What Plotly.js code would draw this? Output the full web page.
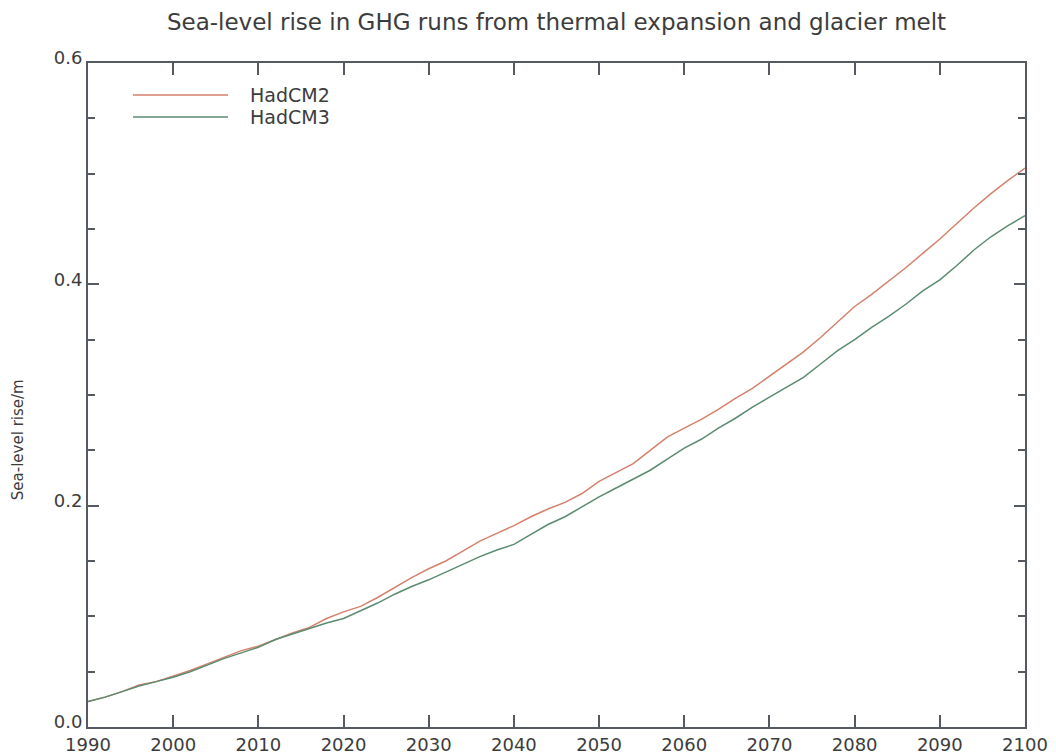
<!DOCTYPE html>
<html>
<head>
<meta charset="utf-8">
<script src="https://cdn.plot.ly/plotly-3.0.1.min.js"></script>
<style>html,body{margin:0;padding:0;background:#fff;}#chart{width:1056px;height:755px;}</style>
</head>
<body>
<div id="chart"></div>
<script>
const years = [1990,1992,1994,1996,1998,2000,2002,2004,2006,2008,2010,2012,2014,2016,2018,2020,2022,2024,2026,2028,2030,2032,2034,2036,2038,2040,2042,2044,2046,2048,2050,2052,2054,2056,2058,2060,2062,2064,2066,2068,2070,2072,2074,2076,2078,2080,2082,2084,2086,2088,2090,2092,2094,2096,2098,2100];
const hadcm2 = [0.023,0.027,0.032,0.038,0.041,0.046,0.051,0.057,0.063,0.069,0.073,0.079,0.085,0.090,0.098,0.104,0.109,0.117,0.126,0.135,0.143,0.150,0.159,0.168,0.175,0.182,0.190,0.197,0.203,0.211,0.222,0.230,0.238,0.250,0.262,0.270,0.278,0.287,0.297,0.306,0.317,0.328,0.339,0.352,0.366,0.380,0.391,0.403,0.415,0.428,0.441,0.455,0.469,0.482,0.494,0.505];
const hadcm3 = [0.023,0.027,0.032,0.037,0.041,0.045,0.050,0.056,0.062,0.067,0.072,0.079,0.084,0.089,0.094,0.098,0.105,0.112,0.120,0.127,0.133,0.140,0.147,0.154,0.160,0.165,0.174,0.183,0.190,0.199,0.208,0.216,0.224,0.232,0.242,0.252,0.260,0.270,0.279,0.289,0.298,0.307,0.316,0.328,0.340,0.350,0.361,0.371,0.382,0.394,0.404,0.417,0.431,0.443,0.453,0.462];
const seriesNames = ['HadCM2','HadCM3'];
const xTickVals = [1990,2000,2010,2020,2030,2040,2050,2060,2070,2080,2090,2100];
const yTickVals = [0.0,0.2,0.4,0.6];
const yTickText = ['0.0','0.2','0.4','0.6'];

const red = '#d4816d', green = '#5b8b70';
const axisCol = '#555a60', textCol = '#3c3c3c';
const fam = 'DejaVu Sans, Arial, sans-serif';

const traces = [
  {x: years, y: hadcm2, name: seriesNames[0], type: 'scatter', mode: 'lines', line: {color: red, width: 1.5}},
  {x: years, y: hadcm3, name: seriesNames[1], type: 'scatter', mode: 'lines', line: {color: green, width: 1.5}}
];

const layout = {
  width: 1056, height: 755,
  margin: {l: 88, r: 31, t: 63, b: 28},
  paper_bgcolor: '#fff', plot_bgcolor: '#fff',
  showlegend: false,
  font: {family: fam, color: textCol},
  title: {text: 'Sea-level rise in GHG runs from thermal expansion and glacier melt',
          font: {family: fam, size: 23, color: textCol},
          xref: 'paper', x: 0.5, xanchor: 'center', yref: 'container', y: 0.971, yanchor: 'middle'},
  xaxis: {range: [1990, 2100], tickvals: xTickVals, ticks: 'inside', ticklen: 12, tickwidth: 2,
          tickcolor: axisCol, showline: true, linecolor: axisCol, linewidth: 2, mirror: 'ticks',
          showgrid: false, zeroline: false, tickfont: {family: fam, size: 18, color: textCol}},
  yaxis: {range: [0, 0.6], tickvals: yTickVals, ticktext: yTickText, ticks: 'inside', ticklen: 11, tickwidth: 2,
          tickcolor: axisCol, showline: true, linecolor: axisCol, linewidth: 2, mirror: 'ticks',
          showgrid: false, zeroline: false, tickfont: {family: fam, size: 18, color: textCol},
          ticklabelshift: -5,
          minor: {dtick: 0.05, ticks: 'inside', ticklen: 7, tickwidth: 2, tickcolor: axisCol, showgrid: false}},
  shapes: [
    {type: 'line', xref: 'paper', yref: 'paper', x0: 0.048, x1: 0.1494, y0: 0.9518, y1: 0.9518, line: {color: red, width: 1.5}},
    {type: 'line', xref: 'paper', yref: 'paper', x0: 0.048, x1: 0.1494, y0: 0.9187, y1: 0.9187, line: {color: green, width: 1.5}}
  ],
  annotations: [
    {xref: 'paper', yref: 'paper', x: 0.1708, y: 0.9518, xanchor: 'left', yanchor: 'middle', showarrow: false,
     text: seriesNames[0], font: {family: fam, size: 19, color: textCol}},
    {xref: 'paper', yref: 'paper', x: 0.1708, y: 0.9187, xanchor: 'left', yanchor: 'middle', showarrow: false,
     text: seriesNames[1], font: {family: fam, size: 19, color: textCol}},
    {xref: 'paper', yref: 'paper', x: -0.0747, y: 0.432, xanchor: 'center', yanchor: 'middle', showarrow: false,
     textangle: -90, text: 'Sea-level rise/m', font: {family: fam, size: 15, color: textCol}}
  ]
};

Plotly.newPlot('chart', traces, layout, {displayModeBar: false, staticPlot: true});
</script>
</body>
</html>
